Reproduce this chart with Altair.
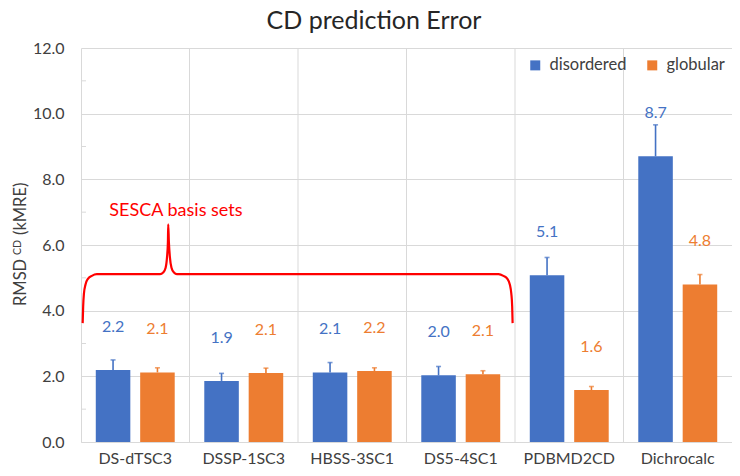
import altair as alt
import pandas as pd

methods = ["DS-dTSC3", "DSSP-1SC3", "HBSS-3SC1", "DS5-4SC1", "PDBMD2CD", "Dichrocalc"]
series = ["disordered", "globular"]
colors = ["#4472C4", "#ED7D31"]

disordered = [2.19, 1.86, 2.12, 2.03, 5.08, 8.70]
disordered_err = [0.31, 0.23, 0.30, 0.27, 0.54, 0.96]
globular = [2.12, 2.10, 2.16, 2.06, 1.58, 4.80]
globular_err = [0.14, 0.15, 0.10, 0.11, 0.11, 0.30]

y_ticks = [0, 2, 4, 6, 8, 10, 12]
minor_ticks = [1, 3, 5, 7, 9, 11]
boundaries = [1, 2, 3, 4, 5]

chart_title = ["CD prediction Error"]

# y-axis title pieces: "RMSD", superscript "CD", "(kMRE)"
ytitle_main = ["RMSD"]
ytitle_sup = ["CD"]
ytitle_unit = ["(kMRE)"]

# curly brace annotation (x in category units, y in kMRE)
brace_x = [0.0155, 0.020, 0.027, 0.041, 0.064, 0.100, 0.146, 0.729, 0.757, 0.780, 0.793,
           0.801, 0.804, 0.810, 0.819, 0.834, 0.857, 0.884, 3.848, 3.893, 3.930, 3.953,
           3.966, 3.974, 3.978]
brace_y = [3.62, 4.13, 4.52, 4.79, 4.97, 5.06, 5.11, 5.11, 5.16, 5.31, 5.64,
           6.09, 6.63, 6.09, 5.64, 5.31, 5.16, 5.11, 5.11, 5.06, 4.97, 4.79,
           4.52, 4.13, 3.62]
note_text = ["SESCA basis sets"]
note_x = [0.875]
note_y = [7.05]

FONT = "Lato"
GRID = "#D9D9D9"
TXT = "#404040"

rows = []
for i, m in enumerate(methods):
    rows.append({"method": m, "series": "disordered", "value": disordered[i], "err": disordered_err[i]})
    rows.append({"method": m, "series": "globular", "value": globular[i], "err": globular_err[i]})
df = pd.DataFrame(rows)

yscale = alt.Scale(domain=[0, 12], nice=False)
qx = alt.Scale(domain=[0, 6], nice=False, zero=False)
cscale = alt.Scale(domain=series, range=colors)
bandx = alt.Scale(paddingInner=0, paddingOuter=0)

yaxis = alt.Axis(values=y_ticks, format=".1f", title=None,
                 grid=True, gridColor=GRID, domainColor=GRID, ticks=False,
                 labelPadding=17, labelFontSize=16, labelFont=FONT, labelColor=TXT)
xaxis = alt.Axis(labelAngle=0, ticks=False, labelPadding=8, labelFontSize=16,
                 labelFont=FONT, labelColor=TXT, domainColor=GRID, grid=False)


def xenc(show_axis):
    return alt.X("method:N", sort=methods, title=None, scale=bandx,
                 axis=xaxis if show_axis else None)


xoff = alt.XOffset("series:N", sort=series,
                   scale=alt.Scale(paddingInner=0.222, paddingOuter=0.333))

base = alt.Chart(df).transform_calculate(top="datum.value + datum.err")

bars = base.mark_bar().encode(
    x=xenc(True), xOffset=xoff,
    y=alt.Y("value:Q", scale=yscale, axis=yaxis),
    color=alt.Color("series:N", scale=cscale,
                    legend=alt.Legend(orient="none", legendX=446, legendY=9,
                                      direction="horizontal", title=None,
                                      symbolType="square", symbolSize=100,
                                      symbolStrokeWidth=0, labelFontSize=16.5,
                                      labelFont=FONT, labelColor=TXT, labelOffset=6,
                                      columnPadding=17, padding=0)),
)

errs = base.mark_rule(strokeWidth=1.6).encode(
    x=xenc(False), xOffset=xoff,
    y=alt.Y("value:Q", scale=yscale, axis=yaxis),
    y2="top:Q",
    color=alt.Color("series:N", scale=cscale, legend=None),
)

caps = base.mark_tick(size=5, thickness=1.6).encode(
    x=xenc(False), xOffset=xoff,
    y=alt.Y("top:Q", scale=yscale, axis=yaxis),
    color=alt.Color("series:N", scale=cscale, legend=None),
)

labels = base.mark_text(dy=-43, fontSize=16, font=FONT, baseline="middle").encode(
    x=xenc(False), xOffset=xoff,
    y=alt.Y("value:Q", scale=yscale, axis=yaxis),
    text=alt.Text("value:Q", format=".1f"),
    color=alt.Color("series:N", scale=cscale, legend=None),
)

vrules = alt.Chart(pd.DataFrame({"b": boundaries})).mark_rule(color=GRID, strokeWidth=1).encode(
    x=alt.X("b:Q", scale=qx, axis=None)
)

minor = alt.Chart(pd.DataFrame({"m": minor_ticks})).mark_rule(color=GRID, strokeWidth=1).encode(
    y=alt.Y("m:Q", scale=yscale, axis=yaxis),
    x=alt.value(0),
    x2=alt.value(5),
)

brace_df = pd.DataFrame({"i": list(range(len(brace_x))), "bx": brace_x, "by": brace_y})
brace = alt.Chart(brace_df).mark_line(color="#FF0000", strokeWidth=2.2, interpolate="monotone").encode(
    x=alt.X("bx:Q", scale=qx, axis=None),
    y=alt.Y("by:Q", scale=yscale, axis=yaxis),
    order="i:Q",
)

note = alt.Chart(pd.DataFrame({"t": note_text, "tx": note_x, "ty": note_y})).mark_text(
    color="#FF0000", fontSize=18, font=FONT, baseline="middle"
).encode(
    x=alt.X("tx:Q", scale=qx, axis=None),
    y=alt.Y("ty:Q", scale=yscale, axis=yaxis),
    text="t:N",
)


def ytitle_part(words, size, xpos, ypos):
    return alt.Chart(pd.DataFrame({"t": words})).mark_text(
        angle=270, align="left", baseline="alphabetic", fontSize=size, font=FONT, color=TXT
    ).encode(text="t:N", x=alt.value(xpos), y=alt.value(ypos))


yt1 = ytitle_part(ytitle_main, 16.5, -55, 258)
yt2 = ytitle_part(ytitle_sup, 10.5, -60.5, 207)
yt3 = ytitle_part(ytitle_unit, 16.5, -55, 187)

title_mark = alt.Chart(pd.DataFrame({"t": chart_title})).mark_text(
    align="center", baseline="alphabetic", fontSize=25, font=FONT, color="#262626"
).encode(text="t:N", x=alt.value(293), y=alt.value(-19))

chart = alt.layer(bars, vrules, minor, errs, caps, labels, brace, note, yt1, yt2, yt3,
                  title_mark).resolve_scale(
    x="independent"
).properties(
    width=651,
    height=394,
    autosize=alt.AutoSizeParams(type="none"),
    padding={"left": 73, "top": 40, "right": 0, "bottom": 24},
).configure_view(stroke=None)

chart.save("out.html", embed_options={"renderer": "svg", "actions": False})
